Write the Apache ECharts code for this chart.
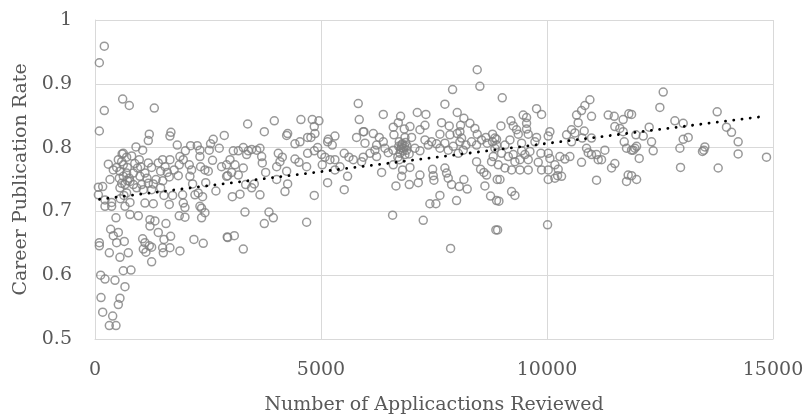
<!DOCTYPE html>
<html><head><meta charset="utf-8">
<script src="https://cdn.jsdelivr.net/npm/echarts@6/dist/echarts.min.js"></script>
<style>html,body{margin:0;padding:0;background:#fff}#c{width:807px;height:420px}</style>
</head><body><div id="c"></div>
<script>
// Number of applications reviewed (x) and career publication rate (y)
const applications = [
206,96,612,759,206,1312,96,1201,1179,1680,1658,1820,907,1054,626,811,2115,2262,2321,2321,2528,2616,2557,2749,2860,
295,516,590,479,626,715,552,700,626,759,980,1010,1179,1253,1400,1496,1658,1452,1599,1643,1879,1864,1953,1842,2085,
2137,2100,2336,2432,2506,2675,2911,2911,2800,74,170,74,221,368,368,552,663,700,848,921,1032,1069,1179,1290,1253,
1452,1526,1717,1938,1953,2159,2211,2284,2380,2321,1105,1290,1643,1990,2358,464,774,958,1216,1326,1216,1400,1570,1864,
1990,2358,2432,346,516,405,479,648,96,96,317,552,737,1054,1105,1069,1201,1127,1253,1253,1526,1496,1658,1511,1673,
1879,2188,2395,2926,626,796,125,221,442,663,133,552,516,170,391,317,464,538,590,774,405,332,663,774,221,995,1105,
560,640,720,850,880,600,700,940,1150,1350,1500,1550,1750,2000,2450,2600,
5824,5846,3377,3967,4556,4807,4954,4851,4866,4777,3746,4262,4240,4534,4424,4704,5161,5308,5146,5249,5787,5935,
3060,3171,3281,3392,3466,3576,3650,3355,3687,3701,2987,3097,3281,3023,2935,3171,3333,3524,3466,3650,3208,3038,3775,
4055,4144,4092,4019,4019,4240,4262,4203,4424,4513,4682,4704,4851,4925,5013,5087,5028,5198,5308,5308,5419,5514,5618,
5714,5588,5514,5146,4851,3318,3082,2935,3281,3746,3849,3945,4682,
8456,8515,7911,7741,6378,7130,7321,8014,8161,6761,6710,6599,6842,6968,7189,7300,7668,7837,8088,8294,8405,8073,6614,
6857,7004,7631,7852,8014,8110,8456,8648,8795,5950,6157,6289,5973,6230,6378,6193,6415,6488,6599,6732,6783,6820,6894,
6746,6857,7078,7189,7300,7373,7447,7557,7631,7741,7815,7926,8036,8073,8147,8206,8331,8442,8552,8677,8795,8884,8847,
5936,5899,6341,6599,6732,6805,6783,6968,7189,6658,6953,7152,7469,7483,7498,7631,7409,7542,7741,7778,7815,7889,7999,
8058,8161,8235,8442,8530,8604,8663,8626,8751,8884,8773,8899,8810,6584,7262,8869,7867,6230,6083,
6780,6800,6820,6850,6870,6760,6900,6720,6950,6700,
9010,9769,9880,10949,10838,10764,10654,10985,10690,11354,11487,11685,11811,8981,9202,9474,9548,9548,9253,9327,9548,
9364,9585,9769,8848,9180,9438,9733,10064,10027,10433,10543,10617,10823,10543,10779,10985,11501,11612,11685,11708,
11759,11870,8885,9069,8995,9143,9253,9290,9401,9511,9585,9438,9622,8922,9069,9217,9401,9585,9806,9865,10027,10064,
9880,10027,10175,10248,10234,10322,10175,10027,10285,10396,10506,10764,10875,10912,10985,11096,11133,11206,11280,
11096,11428,11501,11796,11759,8959,9217,9290,8936,8907,10012,
12571,12497,13765,11871,12829,13013,12261,11967,12129,13971,14082,14229,14229,14856,13013,13124,12940,12313,12350,
11945,11908,11982,12040,13470,13492,13440,12954,13787,11871,11982
];
const pubRate = [
0.959,0.933,0.876,0.866,0.858,0.862,0.826,0.821,0.811,0.824,0.818,0.804,0.801,0.796,0.791,0.787,0.803,0.803,0.796,0.786,0.796,0.813,0.806,0.799,0.819,
0.774,0.781,0.778,0.769,0.773,0.769,0.763,0.760,0.755,0.752,0.781,0.770,0.776,0.769,0.776,0.781,0.781,0.763,0.761,0.754,0.786,0.773,0.781,0.756,0.773,
0.765,0.755,0.770,0.765,0.763,0.732,0.755,0.773,0.770,0.738,0.739,0.726,0.718,0.714,0.708,0.737,0.742,0.729,0.742,0.737,0.742,0.734,0.744,0.743,0.734,
0.737,0.725,0.725,0.726,0.713,0.743,0.726,0.729,0.723,0.708,0.713,0.712,0.711,0.706,0.705,0.690,0.695,0.693,0.687,0.685,0.677,0.667,0.681,0.693,
0.691,0.690,0.698,0.672,0.667,0.662,0.651,0.653,0.651,0.646,0.635,0.628,0.635,0.657,0.651,0.641,0.646,0.636,0.644,0.621,0.656,0.643,0.643,0.635,0.661,
0.638,0.656,0.650,0.660,0.607,0.608,0.600,0.594,0.592,0.582,0.565,0.564,0.554,0.542,0.536,0.521,0.521,0.752,0.744,0.747,0.765,0.750,0.708,0.714,0.708,0.755,0.760,
0.720,0.725,0.748,0.760,0.775,0.790,0.785,0.768,0.752,0.750,0.748,0.770,0.765,0.795,0.745,0.780,
0.869,0.844,0.837,0.842,0.844,0.844,0.842,0.833,0.822,0.816,0.825,0.822,0.819,0.809,0.806,0.816,0.813,0.818,0.809,0.804,0.816,0.825,
0.795,0.795,0.800,0.795,0.797,0.796,0.799,0.789,0.786,0.776,0.781,0.773,0.768,0.761,0.756,0.757,0.742,0.743,0.737,0.726,0.727,0.723,0.761,
0.791,0.785,0.778,0.770,0.750,0.763,0.743,0.731,0.782,0.777,0.770,0.791,0.795,0.800,0.789,0.785,0.773,0.781,0.781,0.765,0.770,0.791,0.785,
0.781,0.755,0.734,0.745,0.725,0.699,0.662,0.659,0.641,0.681,0.699,0.690,0.683,
0.922,0.896,0.891,0.868,0.852,0.855,0.852,0.855,0.846,0.849,0.839,0.832,0.829,0.833,0.828,0.835,0.839,0.834,0.835,0.838,0.830,0.825,0.820,
0.816,0.816,0.821,0.820,0.822,0.815,0.821,0.816,0.821,0.825,0.822,0.816,0.807,0.804,0.809,0.796,0.799,0.792,0.796,0.809,0.804,0.799,0.796,
0.791,0.789,0.799,0.795,0.812,0.804,0.809,0.806,0.799,0.807,0.796,0.802,0.791,0.809,0.796,0.804,0.809,0.804,0.812,0.807,0.809,0.813,0.799,
0.785,0.778,0.761,0.773,0.781,0.765,0.755,0.769,0.757,0.740,0.742,0.745,0.766,0.756,0.749,0.725,0.712,0.712,0.768,0.760,0.752,0.742,0.717,
0.739,0.750,0.735,0.778,0.766,0.761,0.757,0.740,0.724,0.717,0.778,0.750,0.786,0.694,0.686,0.671,0.642,0.786,0.791,
0.800,0.806,0.795,0.802,0.808,0.797,0.803,0.802,0.790,0.785,
0.878,0.861,0.852,0.875,0.866,0.858,0.851,0.849,0.839,0.851,0.849,0.844,0.853,0.834,0.842,0.851,0.847,0.838,0.834,0.828,0.829,
0.821,0.821,0.816,0.815,0.812,0.807,0.809,0.825,0.818,0.820,0.828,0.823,0.826,0.809,0.815,0.815,0.833,0.830,0.825,0.809,
0.799,0.796,0.804,0.804,0.791,0.786,0.789,0.778,0.781,0.789,0.781,0.795,0.794,0.773,0.768,0.765,0.765,0.765,0.777,0.791,0.791,0.783,
0.765,0.765,0.773,0.766,0.756,0.755,0.752,0.750,0.786,0.782,0.786,0.777,0.799,0.792,0.789,0.789,0.781,0.781,0.796,
0.749,0.768,0.775,0.757,0.747,0.750,0.731,0.725,0.716,0.671,0.679,
0.887,0.863,0.856,0.852,0.842,0.838,0.832,0.820,0.818,0.832,0.824,0.809,0.790,0.785,0.813,0.816,0.799,0.809,0.795,
0.799,0.796,0.802,0.783,0.796,0.801,0.794,0.769,0.768,0.756,0.750
];
// Linear trendline end points
const trendX = [100, 14800];
const trendY = [0.719, 0.849];
const xTitle = 'Number of Applicactions Reviewed';
const yTitle = 'Career Publication Rate';

const points = applications.map((a, i) => [a, pubRate[i]]);
const trend = trendX.map((a, i) => [a, trendY[i]]);
const font = 'DejaVu Serif';
const txt = '#595959';
const grid = '#d9d9d9';

const chart = echarts.init(document.getElementById('c'), null, {renderer: 'canvas'});
chart.setOption({
  animation: false,
  backgroundColor: '#fff',
  grid: {left: 95, right: 34, top: 20, bottom: 79, containLabel: false},
  xAxis: {
    type: 'value', min: 0, max: 15000, interval: 5000,
    name: xTitle, nameLocation: 'middle', nameGap: 57,
    nameTextStyle: {fontFamily: font, fontSize: 19, color: txt},
    axisLine: {show: true, lineStyle: {color: grid, width: 1}},
    axisTick: {show: false},
    axisLabel: {fontFamily: font, fontSize: 19, color: txt, margin: 22,
      formatter: v => String(v)},
    splitLine: {show: true, lineStyle: {color: grid, width: 1}}
  },
  yAxis: {
    type: 'value', min: 0.5, max: 1, interval: 0.1,
    name: yTitle, nameLocation: 'middle', nameGap: 63, nameRotate: 90,
    nameTextStyle: {fontFamily: font, fontSize: 19, color: txt},
    axisLine: {show: true, lineStyle: {color: grid, width: 1}},
    axisTick: {show: false},
    axisLabel: {fontFamily: font, fontSize: 19, color: txt, margin: 23,
      formatter: v => String(Math.round(v * 10) / 10)},
    splitLine: {show: true, lineStyle: {color: grid, width: 1}}
  },
  series: [
    {
      type: 'scatter', data: points, symbol: 'circle', symbolSize: 8,
      itemStyle: {color: 'rgba(0,0,0,0)', borderColor: '#808080', borderWidth: 1.5},
      emphasis: {disabled: true}, z: 2
    },
    {
      type: 'line', data: trend, symbol: 'none', silent: true, z: 3,
      lineStyle: {color: '#000', width: 2.8, type: [0.1, 8.2], cap: 'round'}
    }
  ]
});
</script>
</body></html>
